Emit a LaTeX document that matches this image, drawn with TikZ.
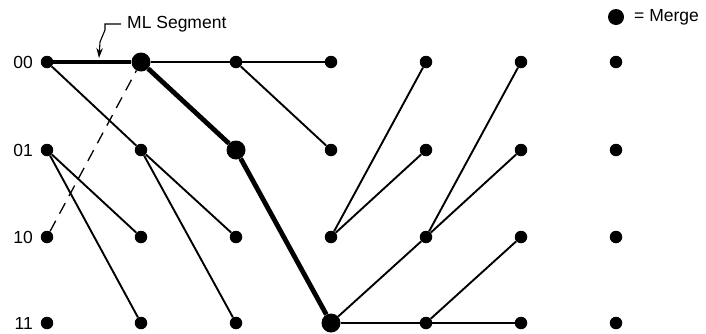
\documentclass[tikz,border=0pt]{standalone}
\usepackage{fontspec}
\setmainfont{Liberation Sans}
\usetikzlibrary{arrows.meta}
\begin{document}
\begin{tikzpicture}[x=1pt,y=-1pt,
  dot/.style={circle,fill=black,inner sep=0pt,minimum size=12.5pt},
  merge/.style={circle,fill=black,inner sep=0pt,minimum size=19pt},
  thin/.style={line width=1.9pt},
  ml/.style={line width=4.8pt},
  lbl/.style={inner sep=0pt,font=\fontsize{17.5}{19}\selectfont},
  leader/.style={line width=1.1pt,-{Stealth[length=10pt,width=6.5pt]}},
  dashline/.style={line width=1.3pt,dash pattern=on 12pt off 8pt}]
\useasboundingbox (0,0) rectangle (706,333);
% columns and rows
\foreach \c/\x in {0/47,1/141,2/236,3/331,4/426,5/521,6/616}{
  \foreach \r/\y in {00/62,01/150,10/237,11/323}{
    \coordinate (p\c\r) at (\x,\y);
  }
}
% nodes
\foreach \c in {0,...,6}{
  \foreach \r in {00,01,10,11}{
    \node[dot] (n\c\r) at (p\c\r) {};
  }
}
\node[merge] (n100) at (p100) {};
\node[merge] (n201) at (p201) {};
\node[merge] (n311) at (p311) {};
% row labels
\node[lbl,anchor=east] (r00) at (33,62) {00};
\node[lbl,anchor=east] (r01) at (33,150) {01};
\node[lbl,anchor=east] (r10) at (33,237) {10};
\node[lbl,anchor=east] (r11) at (33,323) {11};
% edges
\draw[ml] (n000) -- (n100);
\draw[thin] (n000) -- (n101);
\draw[thin] (n001) -- (n110);
\draw[thin] (n001) -- (n111);
\draw[dashline] (n010) -- (n100);
\draw[thin] (n100) -- (n200);
\draw[ml] (n100) -- (n201);
\draw[thin] (n101) -- (n210);
\draw[thin] (n101) -- (n211);
\draw[thin] (n200) -- (n300);
\draw[thin] (n200) -- (n301);
\draw[ml] (n201) -- (n311);
\draw[thin] (n310) -- (n400);
\draw[thin] (n310) -- (n401);
\draw[thin] (n311) -- (n410);
\draw[thin] (n311) -- (n411);
\draw[thin] (n410) -- (n500);
\draw[thin] (n410) -- (n501);
\draw[thin] (n411) -- (n510);
\draw[thin] (n411) -- (n511);
% ML segment label
\node[lbl,anchor=west] (mltext) at (127,24) {ML Segment};
\coordinate (mltip) at (99,58);
\draw[leader] (mltext.west) ++(-6,0) coordinate (ls) -- (105,24) -- (105,30) -- (100,42) -- (mltip);
% legend
\node[circle,fill=black,inner sep=0pt,minimum size=16pt] (legdot) at (616,17) {};
\node[lbl,anchor=west] (legtext) at (634,17) {= Merge};
\end{tikzpicture}
\end{document}
